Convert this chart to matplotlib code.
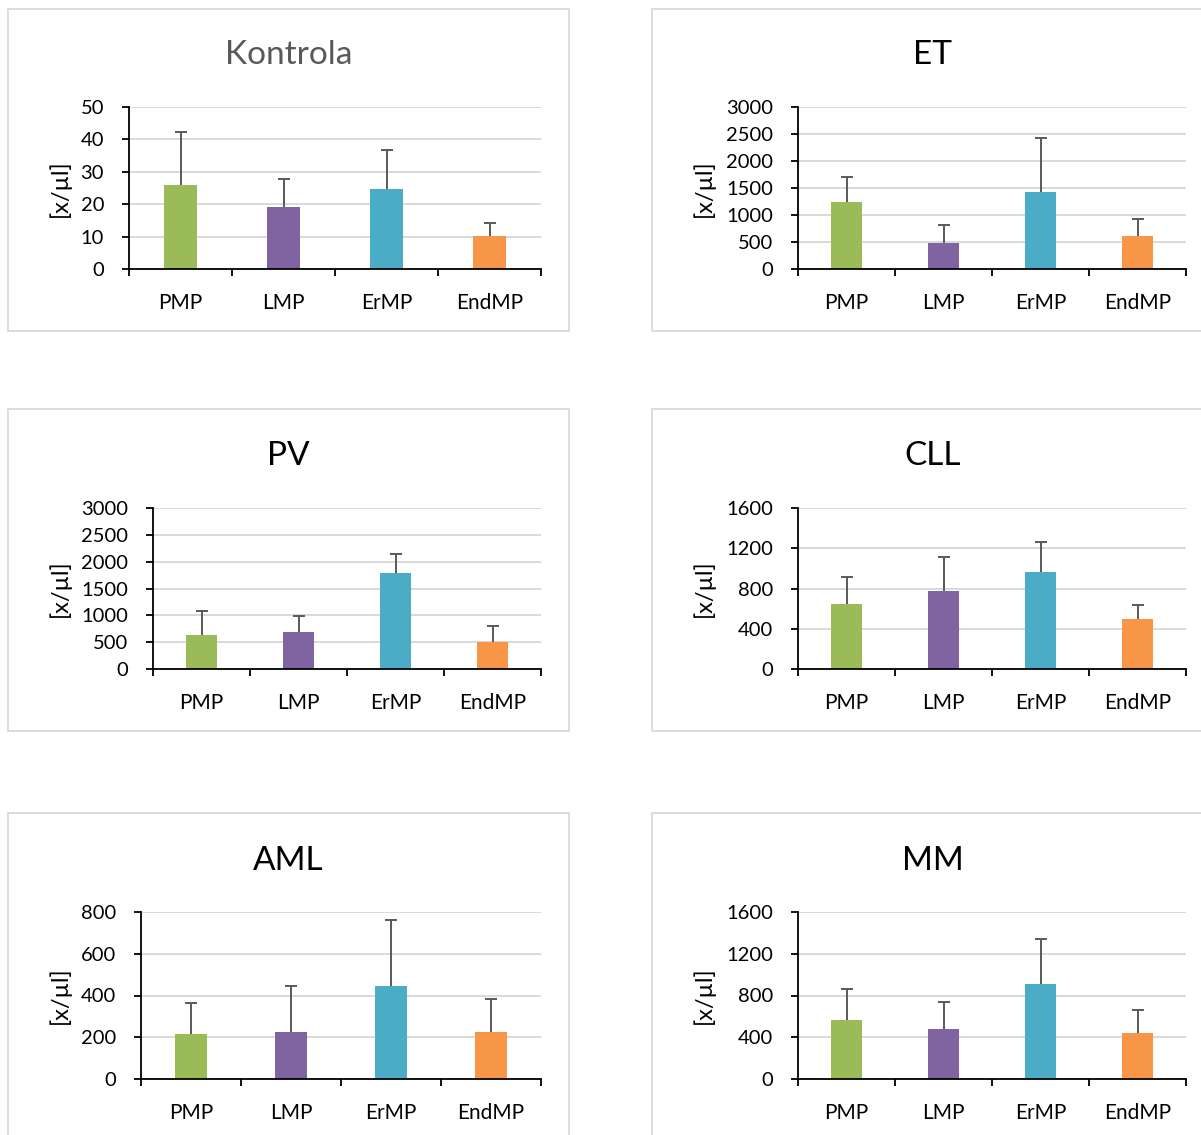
import matplotlib
matplotlib.use("Agg")
import matplotlib.pyplot as plt
from matplotlib.patches import Rectangle
import numpy as np

matplotlib.rcParams.update({'font.family': ['Lato', 'DejaVu Sans'], 'font.size': 14})

# mean values and SD (upper error only) for each group
categories = ["PMP", "LMP", "ErMP", "EndMP"]
titles = ["Kontrola", "ET", "PV", "CLL", "AML", "MM"]

kontrola_mean = [25.9, 19.1, 24.7, 10.1]
kontrola_sd = [16.5, 8.8, 12.1, 4.1]
et_mean = [1242, 478, 1429, 609]
et_sd = [454, 342, 1000, 323]
pv_mean = [640, 696, 1795, 509]
pv_sd = [447, 298, 354, 286]
cll_mean = [643, 772, 960, 493]
cll_sd = [271, 341, 298, 139]
aml_mean = [215, 224, 446, 224]
aml_sd = [149, 222, 314, 157]
mm_mean = [564, 478, 913, 439]
mm_sd = [301, 262, 424, 221]

kontrola_ticks = [0, 10, 20, 30, 40, 50]
et_ticks = [0, 500, 1000, 1500, 2000, 2500, 3000]
pv_ticks = [0, 500, 1000, 1500, 2000, 2500, 3000]
cll_ticks = [0, 400, 800, 1200, 1600]
aml_ticks = [0, 200, 400, 600, 800]
mm_ticks = [0, 400, 800, 1200, 1600]

means = [kontrola_mean, et_mean, pv_mean, cll_mean, aml_mean, mm_mean]
sds = [kontrola_sd, et_sd, pv_sd, cll_sd, aml_sd, mm_sd]
yticks = [kontrola_ticks, et_ticks, pv_ticks, cll_ticks, aml_ticks, mm_ticks]

bar_colors = ["#9BBB59", "#8064A2", "#4BACC6", "#F79646"]

W, H = 1201, 1135
fig = plt.figure(figsize=(W / 100, H / 100), dpi=100)

# pixel layout: frame box (l, t, r, b), axes (l, t, r, b), ylabel x, title baseline
frames = [(8, 9, 569, 331), (652, 9, 1213, 331),
          (8, 409, 569, 731), (652, 409, 1213, 731),
          (8, 813, 569, 1145), (652, 813, 1213, 1145)]
axboxes = [(129, 107, 541, 269), (798, 107, 1186, 269),
           (153, 508, 541, 669), (798, 508, 1186, 669),
           (141, 912, 541, 1079), (798, 912, 1186, 1079)]
ylabel_x = [60, 704, 60, 704, 60, 704]
title_y = [64, 64, 465, 465, 870, 870]


def px_rect(l, t, r, b):
    return [l / W, 1 - b / H, (r - l) / W, (b - t) / H]


def draw_panel(i):
    fl, ft, fr, fb = frames[i]
    fig.add_artist(Rectangle((fl / W, 1 - fb / H), (fr - fl) / W, (fb - ft) / H,
                             transform=fig.transFigure, fill=False,
                             ec="#d9d9d9", lw=1.3, zorder=0))
    tcolor = "#595959" if i == 0 else "black"
    fig.text((fl + fr) / 2 / W, 1 - title_y[i] / H, titles[i], ha="center",
             va="baseline", fontsize=24, color=tcolor)

    al, at, ar, ab = axboxes[i]
    ax = fig.add_axes(px_rect(al, at, ar, ab))
    ax.patch.set_alpha(0)
    x = np.arange(len(categories))
    ax.bar(x, means[i], width=0.32, color=bar_colors, zorder=2)
    eb = ax.errorbar(x, means[i], yerr=[np.zeros(4), sds[i]], fmt="none",
                     ecolor="#595959", elinewidth=1.4, capsize=4.5, capthick=1.4, zorder=3)
    # plus-only error bars: hide the cap sitting on the bar top
    eb[1][0].set_visible(False)

    ticks = yticks[i]
    ax.set_ylim(0, ticks[-1])
    ax.set_xlim(-0.5, 3.5)
    ax.set_yticks(ticks)
    ax.set_yticklabels([str(t) for t in ticks])
    ax.yaxis.grid(True, color="#d9d9d9", lw=1.4, zorder=0)
    ax.set_axisbelow(True)

    ax.set_xticks(np.arange(-0.5, 4, 1.0))
    ax.set_xticklabels([])
    ax.set_xticks(x, minor=True)
    ax.set_xticklabels(categories, minor=True)
    ax.tick_params(axis="x", which="major", length=5, width=1.3, direction="out")
    ax.tick_params(axis="x", which="minor", length=0, pad=17, labelsize=15)
    ax.tick_params(axis="y", length=5, width=1.3, pad=13, labelsize=14.5)

    for s in ["top", "right"]:
        ax.spines[s].set_visible(False)
    for s in ["left", "bottom"]:
        ax.spines[s].set_linewidth(1.3)
        ax.spines[s].set_zorder(4)

    ax.set_ylabel("[x/µl]", fontsize=17, va="center")
    ax.yaxis.set_label_coords((ylabel_x[i] - al) / (ar - al), 0.5)
    return ax


for i in range(6):
    draw_panel(i)

fig.savefig("out.png", dpi=100)
